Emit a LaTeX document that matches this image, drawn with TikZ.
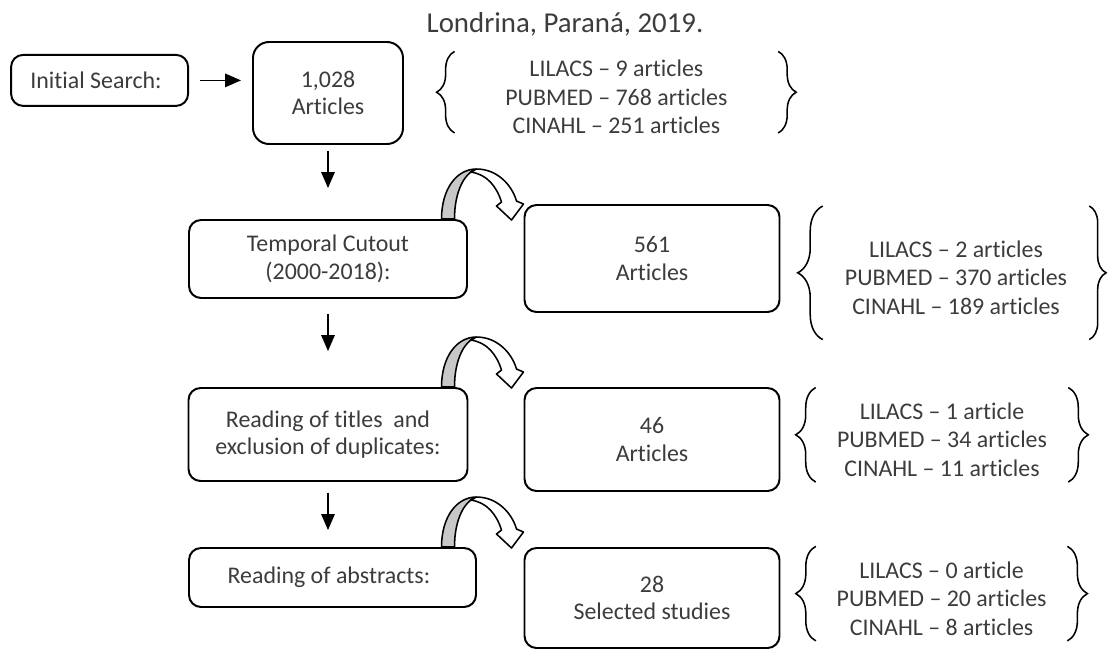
\documentclass[tikz,border=0pt]{standalone}
\usepackage{fontspec}
\setmainfont[Ligatures={TeX,NoCommon}]{Carlito}
\usetikzlibrary{arrows.meta, positioning, calc, decorations.pathreplacing}
\definecolor{flowText}{RGB}{60, 60, 60}
\definecolor{flowBand}{RGB}{200, 200, 200}
\tikzset{
  stepbox/.style={
    rectangle, rounded corners=0.3cm,
    draw=black, line width=1.4pt,
    fill=white, text=flowText,
    align=center, inner sep=0pt,
    font=\fontsize{17}{19.5}\selectfont
  },
  sourcelist/.style={
    rectangle, text=flowText,
    align=center, inner sep=0pt,
    font=\fontsize{17}{20.3}\selectfont
  },
  flowarrow/.style={-{Triangle[length=0.4cm, width=0.34cm]}, line width=0.9pt},
  bracestyle/.style={decorate, decoration={brace, amplitude=#1}, line width=1.1pt}
}
% curved hand-over arrow, #1 = foot of its grey leg
\newcommand{\bendarrow}[1]{%
  \begin{scope}[shift={(#1)}, x=0.025cm, y=-0.025cm, line width=1.1pt, line join=round]
    \filldraw[fill=flowBand] (0,0) .. controls (0,-30) and (15,-50) .. (35,-50)
      .. controls (23,-46) and (13,-28) .. (13,0) -- cycle;
    \filldraw[fill=white] (35,-50) .. controls (55,-50) and (70,-35) .. (75,-18)
      -- (82,-15) -- (70,1) -- (55,-13) -- (60,-17)
      .. controls (55,-33) and (45,-45) .. (29,-47) -- cycle;
  \end{scope}}

\begin{document}
\begin{tikzpicture}
\useasboundingbox (0,0) rectangle (27.7,-16.25);

\def\leftX{8.2}
\def\rightX{16.3}
\def\braceshift{0.12cm}

%% TITLE
\node[font=\fontsize{20.5}{24}\selectfont, text=flowText, anchor=base] (title) at (14.125,-0.8)
  {Londrina, Paraná, 2019.};

%% LEFT COLUMN
\node[stepbox, minimum width=4.425cm, minimum height=1.275cm] (search) at (2.49,-2.01) {
  Initial Search:
};
\node[stepbox, rounded corners=0.4cm, minimum width=3.75cm, minimum height=2.55cm] (found) at (\leftX,-2.325) {
  1,028\\Articles
};
\node[stepbox, minimum width=6.95cm, minimum height=1.95cm] (temporal) at (\leftX,-6.475) {
  Temporal Cutout\\(2000-2018):
};
\node[stepbox, minimum width=6.975cm, minimum height=2.325cm] (titles) at (\leftX,-10.8625) {
  Reading of titles\ \ and\\exclusion of duplicates:
};
\node[stepbox, minimum width=7.175cm, minimum height=1.475cm] (abstracts) at (8.3125,-14.4375) {
  Reading of abstracts:
};

%% RIGHT COLUMN
\node[stepbox, minimum width=6.375cm, minimum height=2.675cm] (afterdate) at (\rightX,-6.4625) {
  561\\Articles
};
\node[stepbox, minimum width=6.375cm, minimum height=2.575cm] (aftertitles) at (\rightX,-10.9875) {
  46\\Articles
};
\node[stepbox, minimum width=6.375cm, minimum height=2.5cm] (selected) at (\rightX,-14.95) {
  28\\Selected studies
};

%% SOURCE LISTS
\node[sourcelist, minimum width=8.075cm, minimum height=2.025cm] (srcfound) at (15.41,-2.425) {
  LILACS -- 9 articles\\PUBMED -- 768 articles\\CINAHL -- 251 articles
};
\node[sourcelist, minimum width=6.65cm, minimum height=3.325cm] (srcdate) at (23.9,-6.94) {
  LILACS -- 2 articles\\PUBMED -- 370 articles\\CINAHL -- 189 articles
};
\node[sourcelist, minimum width=6.3cm, minimum height=2.35cm] (srctitles) at (23.55,-10.99) {
  LILACS -- 1 article\\PUBMED -- 34 articles\\CINAHL -- 11 articles
};
\node[sourcelist, minimum width=6.275cm, minimum height=2.35cm] (srcselected) at (23.54,-14.96) {
  LILACS -- 0 article\\PUBMED -- 20 articles\\CINAHL -- 8 articles
};

%% BRACES
\draw[bracestyle=0.45cm] ([yshift=\braceshift]srcfound.south west) -- ([yshift=\braceshift]srcfound.north west);
\draw[bracestyle=0.45cm] ([yshift=\braceshift]srcfound.north east) -- ([yshift=\braceshift]srcfound.south east);
\draw[bracestyle=0.625cm] ([yshift=\braceshift]srcdate.south west) -- ([yshift=\braceshift]srcdate.north west);
\draw[bracestyle=0.42cm] ([yshift=\braceshift]srcdate.north east) -- ([yshift=\braceshift]srcdate.south east);
\draw[bracestyle=0.5cm] ([yshift=\braceshift]srctitles.south west) -- ([yshift=\braceshift]srctitles.north west);
\draw[bracestyle=0.5cm] ([yshift=\braceshift]srctitles.north east) -- ([yshift=\braceshift]srctitles.south east);
\draw[bracestyle=0.5cm] ([yshift=\braceshift]srcselected.south west) -- ([yshift=\braceshift]srcselected.north west);
\draw[bracestyle=0.5cm] ([yshift=\braceshift]srcselected.north east) -- ([yshift=\braceshift]srcselected.south east);

%% ARROWS
\draw[flowarrow, shorten <=0.275cm, shorten >=0.275cm] (search.east) -- (search.east -| found.west);
\draw[flowarrow, shorten <=0.15cm, shorten >=0.775cm] (found.south) -- (temporal.north);
\draw[flowarrow, shorten <=0.375cm, shorten >=0.9cm] (temporal.south) -- (temporal.south |- titles.north);
\draw[flowarrow, shorten <=0.275cm, shorten >=0.425cm] (titles.south) -- (titles.south |- abstracts.north);

% left step -> right result
\bendarrow{$(afterdate.west |- temporal.north)+(-2.05,0)$}
\bendarrow{$(aftertitles.west |- titles.north)+(-2.05,0)$}
\bendarrow{$(selected.west |- abstracts.north)+(-2.05,0)$}

\end{tikzpicture}
\end{document}
